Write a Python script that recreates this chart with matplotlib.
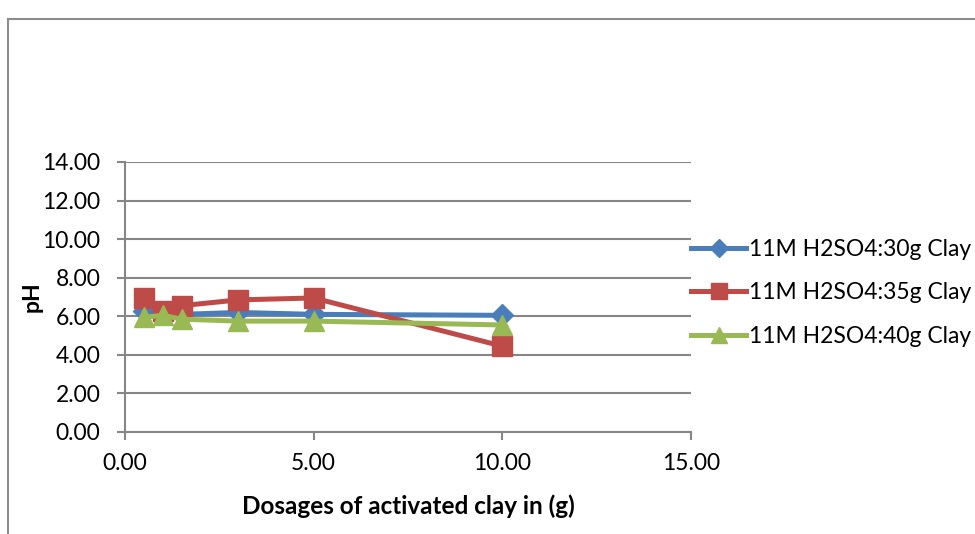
import matplotlib
matplotlib.use("Agg")
import matplotlib.pyplot as plt
from matplotlib.lines import Line2D

plt.rcParams['font.family'] = ['Lato', 'DejaVu Sans']

dosage = [0.5, 1.0, 1.5, 3.0, 5.0, 10.0]
ph_30g = [6.25, 6.15, 6.10, 6.20, 6.10, 6.05]
ph_35g = [6.95, 6.30, 6.55, 6.85, 6.95, 4.45]
ph_40g = [5.95, 6.05, 5.85, 5.75, 5.75, 5.55]
series_labels = ["11M H2SO4:30g Clay", "11M H2SO4:35g Clay", "11M H2SO4:40g Clay"]
x_ticks = [0, 5, 10, 15]
y_ticks = [0, 2, 4, 6, 8, 10, 12, 14]

W, H = 975, 534
fig = plt.figure(figsize=(W / 100, H / 100), dpi=100)
ax = fig.add_axes([125 / W, 1 - 432 / H, (691 - 125) / W, (432 - 162) / H])

grid_c = "#868686"
ax.set_xlim(0, 15)
ax.set_ylim(0, 14)
ax.set_xticks(x_ticks)
ax.set_yticks(y_ticks)
ax.set_xticklabels([f"{v:.2f}" for v in x_ticks])
ax.set_yticklabels([f"{v:.2f}" for v in y_ticks])
ax.yaxis.grid(True, color=grid_c, linewidth=1.5)
ax.set_axisbelow(True)
for s in ["top", "right"]:
    ax.spines[s].set_visible(False)
for s in ["left", "bottom"]:
    ax.spines[s].set_color(grid_c)
    ax.spines[s].set_linewidth(1.5)
ax.tick_params(axis="both", colors=grid_c, width=1.5, length=5.8, labelsize=16.5,
               labelcolor="black")
ax.tick_params(axis="x", pad=9)
ax.tick_params(axis="y", pad=12)

common = dict(linewidth=3.6, clip_on=False)
ax.plot(dosage, ph_30g, color="#4A7EBB", marker="D", markersize=11, label=series_labels[0], **common)
ax.plot(dosage, ph_35g, color="#BE4B48", marker="s", markersize=15, label=series_labels[1], **common)
ax.plot(dosage, ph_40g, color="#98B954", marker="^", markersize=15, label=series_labels[2], **common)

ax.set_xlabel("Dosages of activated clay in (g)", fontsize=17.5, fontweight="bold", labelpad=15)
ax.set_ylabel("pH", fontsize=16.5, fontweight="bold", labelpad=0)

leg = ax.legend(loc="center left", bbox_to_anchor=(1.0, 0.515), frameon=False, fontsize=16.5,
                handlelength=2.4, handletextpad=0.15, labelspacing=0.97, borderaxespad=0.0,
                borderpad=0.0, markerscale=0.8)

# outer chart frame
fig.add_artist(Line2D([8 / W, 8 / W], [0, 1 - 19 / H], color="#8C8C8C", linewidth=1.5))
fig.add_artist(Line2D([8 / W, 1], [1 - 19 / H, 1 - 19 / H], color="#8C8C8C", linewidth=1.5))

fig.savefig("out.png", dpi=100)
